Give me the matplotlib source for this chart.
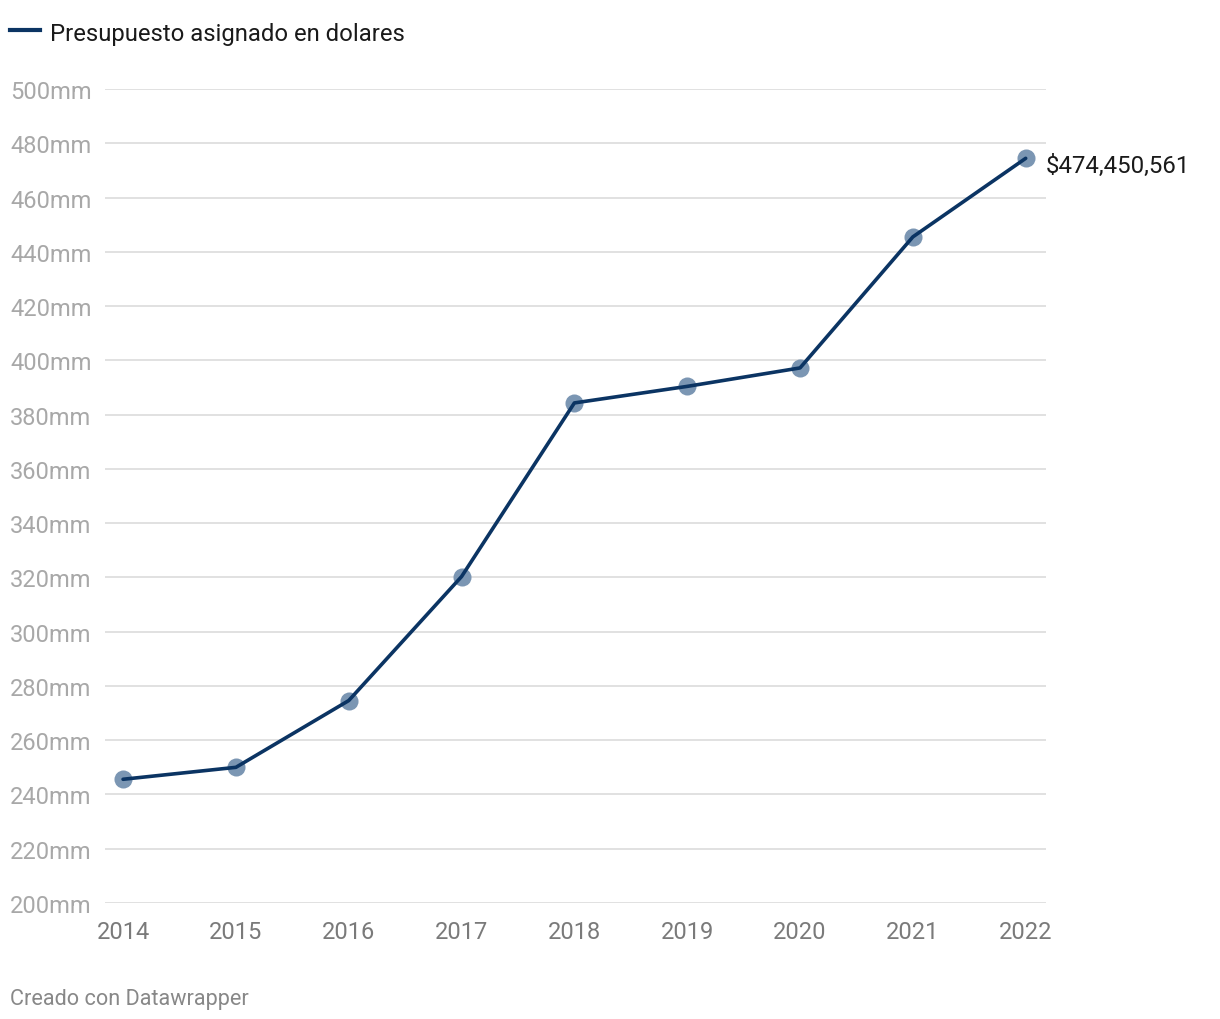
import matplotlib
matplotlib.use("Agg")
import matplotlib.pyplot as plt
import matplotlib.transforms as mtransforms

plt.rcParams['font.family'] = ['Roboto', 'DejaVu Sans']

years = [2014, 2015, 2016, 2017, 2018, 2019, 2020, 2021, 2022]
budget_mm = [245.6, 250.0, 274.6, 320.3, 384.3, 390.4, 397.2, 445.5, 474.45]
y_ticks = [200, 220, 240, 260, 280, 300, 320, 340, 360, 380, 400, 420, 440, 460, 480, 500]
last_label = "$474,450,561"
legend_label = "Presupuesto asignado en dolares"
credit = "Creado con Datawrapper"

line_color = "#0b3463"
dot_color = "#7b96b3"

fig = plt.figure(figsize=(12.2, 10.2), dpi=100)
ax = fig.add_axes([105 / 1220, 1 - 904 / 1020, (1046 - 105) / 1220, (904 - 90) / 1020])

for t in y_ticks:
    ax.axhline(t, color="#e1e1e1", lw=1.4, zorder=0)

ax.plot(years, budget_mm, "o", ms=13, color=dot_color, mec="none", zorder=2)
ax.plot(years, budget_mm, "-", lw=2.6, color=line_color, zorder=3, solid_capstyle="round")

ax.set_xlim(2013.84, 2022.18)
ax.set_ylim(200, 500)
ax.set_xticks(years)
ax.set_xticklabels([str(y) for y in years], fontsize=17, color="#7a7a7a")
ax.tick_params(axis="x", length=0, pad=12)
ax.set_yticks([])
for s in ax.spines.values():
    s.set_visible(False)

trans = mtransforms.blended_transform_factory(fig.transFigure, ax.transData)
for t in y_ticks:
    ax.text(10 / 1220, t, f"{t}mm", transform=trans, ha="left", va="center_baseline",
            fontsize=17, color="#a8a8a8", clip_on=False)

ax.annotate(last_label, (years[-1], budget_mm[-1]), xytext=(14.5, -3),
            textcoords="offset points", ha="left", va="center_baseline",
            fontsize=17.3, color="#1a1a1a", annotation_clip=False)

# legend
fig.add_artist(plt.Line2D([10 / 1220, 40 / 1220], [1 - 31 / 1020] * 2,
                          color=line_color, lw=3, transform=fig.transFigure))
fig.text(50 / 1220, 1 - 32 / 1020, legend_label, ha="left", va="center_baseline",
         fontsize=17.2, color="#1a1a1a")

fig.text(10 / 1220, 1 - 997 / 1020, credit, ha="left", va="center_baseline",
         fontsize=15.6, color="#888888")

fig.savefig("out.png", dpi=100, facecolor="white")
